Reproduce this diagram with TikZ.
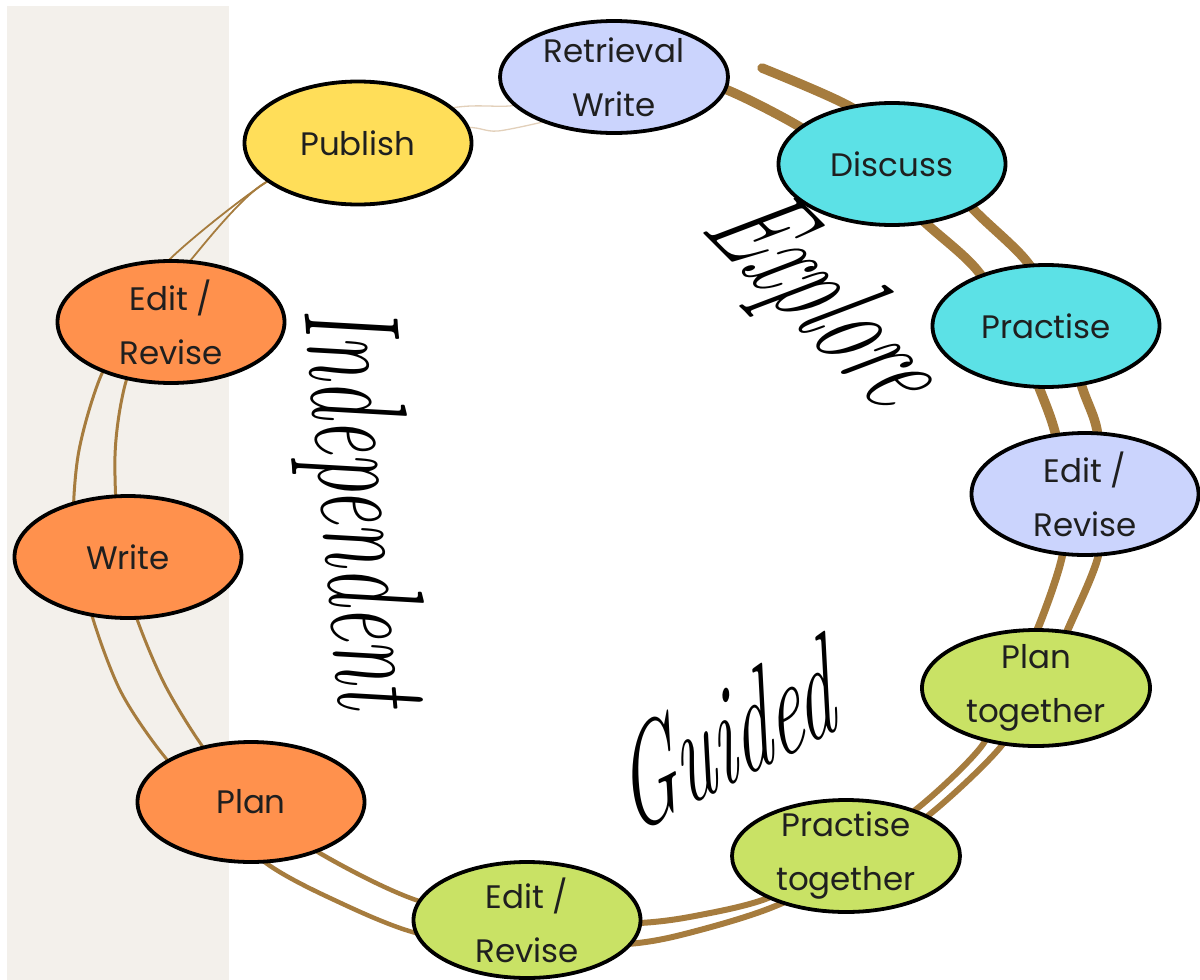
\documentclass[tikz,border=0pt]{standalone}
\usepackage{fontspec}
\newfontfamily\nodef{Poppins}
\newfontfamily\handf{Latin Modern Roman}
\usetikzlibrary{shapes.geometric}
\definecolor{bgbeige}{RGB}{243,240,235}
\definecolor{ringbrown}{RGB}{166,124,62}
\definecolor{ringfaint}{RGB}{226,208,186}
\definecolor{lav}{RGB}{203,212,253}
\definecolor{yel}{RGB}{255,222,89}
\definecolor{cyn}{RGB}{92,225,230}
\definecolor{grn}{RGB}{201,226,101}
\definecolor{org}{RGB}{255,145,77}
\begin{document}
\begin{tikzpicture}[x=1pt,y=-1pt,
  ring/.style={draw=ringbrown, line cap=round, line join=round},
  stage/.style={ellipse, draw=black, line width=3.8pt, inner xsep=0pt, inner ysep=-12pt,
    minimum width=227pt, minimum height=120pt, align=center,
    font=\nodef\fontsize{32.5}{54}\selectfont, text=black!88},
  hand/.style={font=\handf\itshape\fontsize{135}{135}\selectfont, anchor=base, inner sep=0pt}]
\useasboundingbox (0,0) rectangle (1200,980);
\fill[bgbeige] (7,6) rectangle (229,980);

% outer ring
\draw[ring, line width=9.5pt] plot[smooth] coordinates {(762,68) (847,105) (915,150) (977,213) (1028,263) (1060,322) (1083,390) (1097,430) (1103,495)};
\draw[ring, line width=7.5pt] plot[smooth] coordinates {(1103,495) (1098,557) (1069,627) (1040,690)};
\draw[ring, line width=6pt] plot[smooth] coordinates {(1040,690) (998,750) (935,810) (860,865) (773,907) (700,930) (638,943) (527,950)};
\draw[ring, line width=4.5pt] plot[smooth] coordinates {(527,950) (416,933) (330,898) (266,863) (210,810)};
\draw[ring, line width=3pt] plot[smooth] coordinates {(210,810) (157,747) (120,690) (93,619) (74,540) (78,456) (100,378) (135,315)};
\draw[ring, line width=1.8pt] plot[smooth] coordinates {(135,315) (168,261) (265,183) (358,135)};
\draw[ring, draw=ringfaint, line width=1.3pt] plot[smooth] coordinates {(358,135) (452,108) (509,106) (560,100)};

% inner ring
\draw[ring, line width=9.5pt] plot[smooth] coordinates {(660,70) (725,89) (800,127) (870,175) (930,227) (977,270) (1015,330) (1040,390) (1055,432) (1068,495)};
\draw[ring, line width=7.5pt] plot[smooth] coordinates {(1068,495) (1062,557) (1040,623) (1010,690)};
\draw[ring, line width=6pt] plot[smooth] coordinates {(1010,690) (981,747) (919,807) (845,858) (768,898) (700,915) (640,923) (527,925)};
\draw[ring, line width=4.5pt] plot[smooth] coordinates {(527,925) (416,900) (323,855) (251,805)};
\draw[ring, line width=3pt] plot[smooth] coordinates {(251,805) (203,747) (165,685) (137,619) (120,557) (115,456) (125,385) (150,320)};
\draw[ring, line width=1.8pt] plot[smooth] coordinates {(150,320) (190,261) (263,184) (358,150)};
\draw[ring, draw=ringfaint, line width=1.3pt] plot[smooth] coordinates {(358,150) (460,128) (498,131) (560,118)};

% stages
\node[stage, fill=lav, minimum width=228pt, minimum height=112pt] (ret) at (614,77) {Retrieval\\Write};
\node[stage, fill=yel, minimum height=123pt] (pub) at (358,143) {Publish};
\node[stage, fill=cyn, minimum height=122pt] (dis) at (892,164) {Discuss};
\node[stage, fill=cyn, minimum height=122pt] (pra) at (1046,326) {Practise};
\node[stage, fill=lav, minimum height=122pt] (edr) at (1085,494) {Edit /\\Revise};
\node[stage, fill=grn, minimum width=228pt, minimum height=116pt] (plt) at (1036,688) {Plan\\together};
\node[stage, fill=grn, minimum width=228pt, minimum height=112pt] (prt) at (846,856) {Practise\\together};
\node[stage, fill=grn, minimum height=116pt] (edb) at (527,920) {Edit /\\Revise};
\node[stage, fill=org] (pla) at (251,802) {Plan};
\node[stage, fill=org, minimum height=122pt] (wri) at (128,557) {Write};
\node[stage, fill=org, minimum height=122pt] (edl) at (171,322) {Edit /\\Revise};

% phase labels
\node[hand, rotate=-85, xscale=0.58] (indep) at (322,510) {Independent};
\node[hand, rotate=-45, xslant=0.3, xscale=0.6] (expl) at (790,320) {Explore};
\node[hand, rotate=27, xslant=0.3, xscale=0.58] (guid) at (735,782) {Guided};
\end{tikzpicture}
\end{document}
